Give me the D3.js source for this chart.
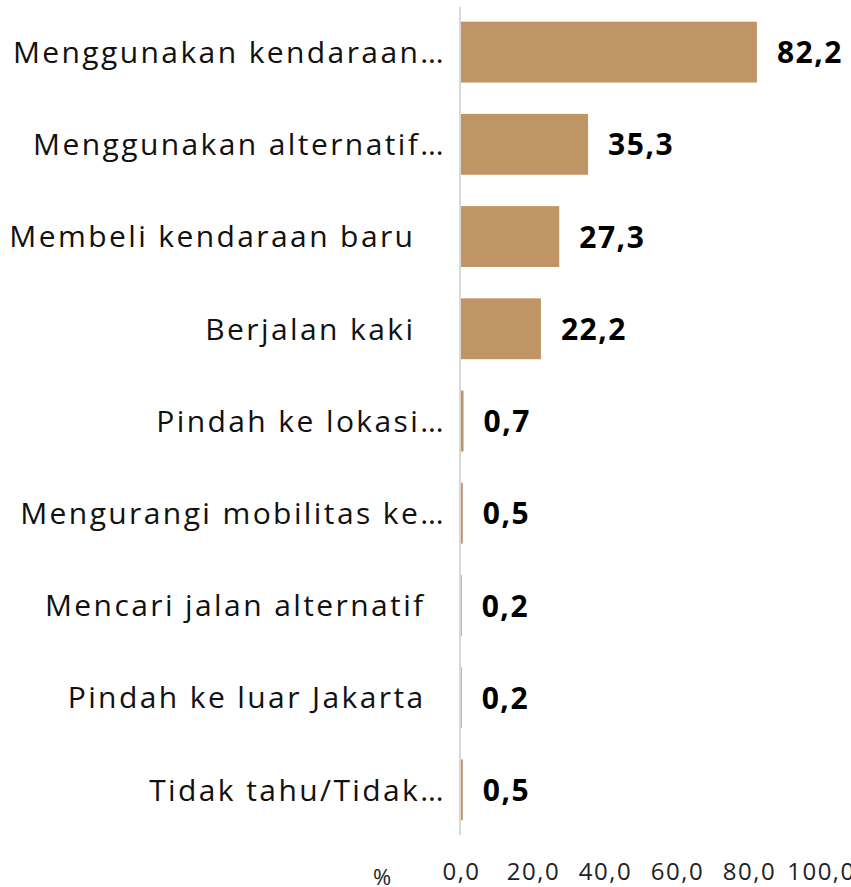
<!DOCTYPE html>
<html>
<head>
<meta charset="utf-8">
<script src="https://cdn.jsdelivr.net/npm/d3@7"></script>
<style>
html,body{margin:0;padding:0;background:#fff;}
svg{display:block;}
text{white-space:pre;}
</style>
</head>
<body>
<script>
const categories = [
  "Menggunakan kendaraan…",
  "Menggunakan alternatif…",
  "Membeli kendaraan baru   ",
  "Berjalan kaki   ",
  "Pindah ke lokasi…",
  "Mengurangi mobilitas ke…",
  "Mencari jalan alternatif  ",
  "Pindah ke luar Jakarta  ",
  "Tidak tahu/Tidak…"
];
const values = [82.2, 35.3, 27.3, 22.2, 0.7, 0.5, 0.2, 0.2, 0.5];
const valueLabels = ["82,2", "35,3", "27,3", "22,2", "0,7", "0,5", "0,2", "0,2", "0,5"];
const tickValues = [0, 20, 40, 60, 80, 100];
const tickLabels = ["0,0", "20,0", "40,0", "60,0", "80,0", "100,0"];
const unitLabel = "%";

const W = 851, H = 887;
const svg = d3.select("body").append("svg").attr("width", W).attr("height", H);

const x = d3.scaleLinear().domain([0, 100]).range([461, 821]);
const y = d3.scaleBand().domain(categories).range([6, 836]).paddingInner(0.34).paddingOuter(0.17);

const font = "'Open Sans', sans-serif";

// bars
svg.selectAll("rect.bar").data(values).join("rect")
  .attr("class", "bar")
  .attr("x", x(0))
  .attr("y", (d, i) => y(categories[i]))
  .attr("width", d => x(d) - x(0))
  .attr("height", y.bandwidth())
  .attr("fill", "#C09565");

// vertical axis line
svg.append("line")
  .attr("x1", 460).attr("x2", 460)
  .attr("y1", y.range()[0] + 1).attr("y2", y.range()[1] - 1)
  .attr("stroke", "#d9d9d9").attr("stroke-width", 2);

// category labels
svg.selectAll("text.cat").data(categories).join("text")
  .attr("class", "cat")
  .attr("x", 446)
  .attr("y", d => y(d) + y.bandwidth() / 2)
  .attr("dy", "0.36em")
  .attr("text-anchor", "end")
  .attr("font-family", font)
  .attr("font-size", 30)
  .attr("letter-spacing", 2.4)
  .attr("fill", "#111")
  .text(d => d);

// value labels
svg.selectAll("text.val").data(values).join("text")
  .attr("class", "val")
  .attr("x", d => x(d) + 20)
  .attr("y", (d, i) => y(categories[i]) + y.bandwidth() / 2)
  .attr("dy", "0.37em")
  .attr("font-family", font)
  .attr("font-weight", 700)
  .attr("font-size", 30)
  .attr("letter-spacing", 1.5)
  .attr("fill", "#000")
  .text((d, i) => valueLabels[i]);

// x axis tick labels
const axis = d3.axisBottom(x).tickValues(tickValues)
  .tickFormat((d, i) => tickLabels[i]).tickSize(0).tickPadding(0);
const gx = svg.append("g").attr("transform", "translate(0,880)").call(axis);
gx.select(".domain").remove();
gx.selectAll("text")
  .attr("font-family", font)
  .attr("font-size", 24)
  .attr("letter-spacing", 1.5)
  .attr("fill", "#222")
  .attr("y", 0)
  .attr("dy", 0);

svg.append("text")
  .attr("x", 382).attr("y", 885)
  .attr("text-anchor", "middle")
  .attr("font-family", font)
  .attr("font-size", 22)
  .attr("fill", "#222")
  .text(unitLabel);
</script>
</body>
</html>
